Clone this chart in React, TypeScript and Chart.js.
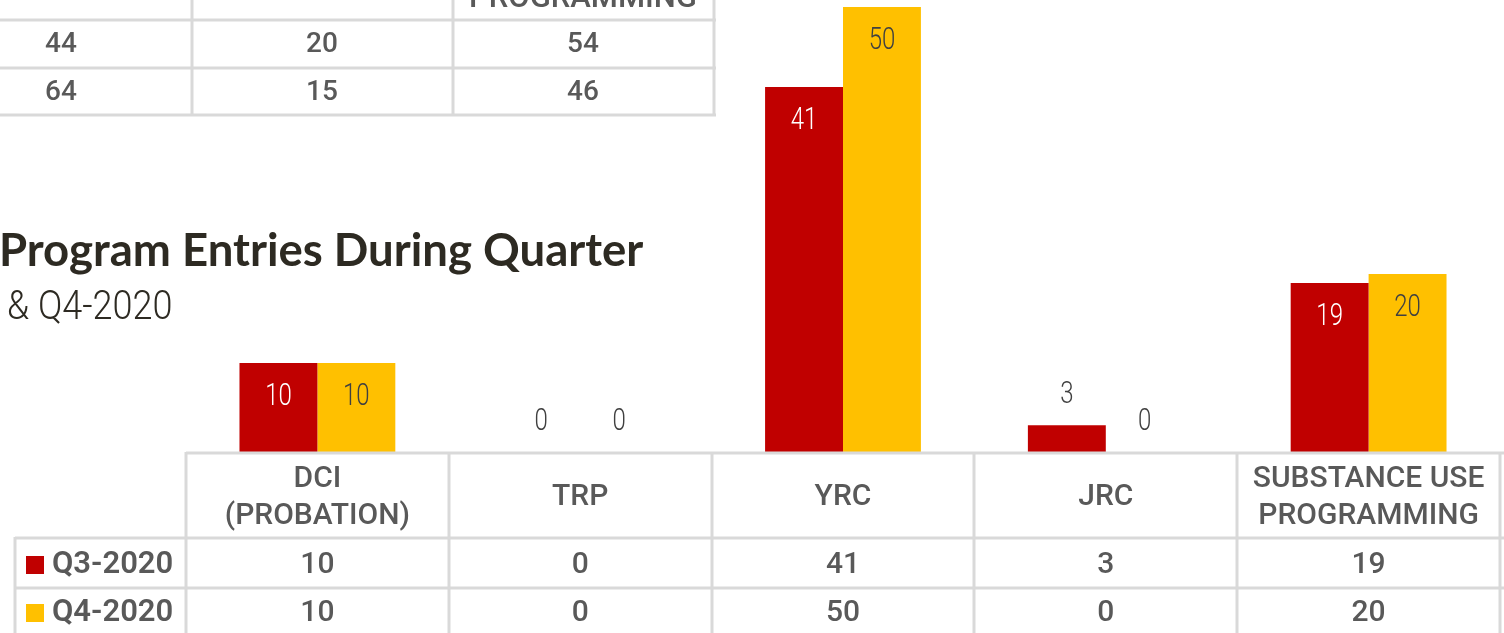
import React, { useEffect, useRef } from "react";
import { Chart, registerables } from "chart.js";

Chart.register(...registerables);

// ---- data ----
const categories: string[][] = [
  ["DCI", "(PROBATION)"],
  ["TRP"],
  ["YRC"],
  ["JRC"],
  ["SUBSTANCE USE", "PROGRAMMING"],
];
const seriesNames = ["Q3-2020", "Q4-2020"];
const q3Values = [10, 0, 41, 3, 19];
const q4Values = [10, 0, 50, 0, 20];
const prevTableRow1 = [44, 20, 54];
const prevTableRow2 = [64, 15, 46];
const prevHeaderTail = "PROGRAMMING";
const titleText = "Program Entries During Quarter";
const subtitleText = "& Q4-2020";
const yMax = 50;

const RED = "#C00000";
const YELLOW = "#FFC000";
const GREY = "#595959";
const LINE = "#D9D9D9";
const SANS = "Roboto, 'Noto Sans', sans-serif";

function drawText(
  ctx: CanvasRenderingContext2D,
  text: string,
  x: number,
  y: number,
  font: string,
  sx: number,
  align: CanvasTextAlign,
  baseline: CanvasTextBaseline = "middle"
) {
  ctx.save();
  ctx.font = font;
  ctx.textAlign = align;
  ctx.textBaseline = baseline;
  ctx.translate(x, y);
  ctx.scale(sx, 1);
  ctx.fillText(text, 0, 0);
  ctx.restore();
}

const overlayPlugin = {
  id: "overlay",
  afterDraw(chart: any) {
    const ctx: CanvasRenderingContext2D = chart.ctx;
    const area = chart.chartArea;
    const xs = chart.scales.x;
    const n = categories.length;
    const cw = (area.right - area.left) / n;
    ctx.save();

    // title & subtitle
    ctx.fillStyle = "#2D2A22";
    drawText(ctx, titleText, -1, 266, `bold 45.5px Lato, 'Open Sans', sans-serif`, 1, "left", "alphabetic");
    drawText(ctx, subtitleText, 7, 319, `300 40px ${SANS}`, 0.9, "left", "alphabetic");

    // previous table remnants
    ctx.strokeStyle = LINE;
    ctx.lineWidth = 3;
    const prevCols = [192, 453, 714];
    ctx.beginPath();
    for (const y of [20, 68, 115]) {
      ctx.moveTo(0, y);
      ctx.lineTo(716, y);
    }
    for (const x of prevCols) {
      ctx.moveTo(x, 0);
      ctx.lineTo(x, 116);
    }
    ctx.stroke();
    ctx.fillStyle = GREY;
    const prevCenters = [61, 322, 583];
    prevTableRow1.forEach((v, i) => drawText(ctx, String(v), prevCenters[i], 45, `500 28px ${SANS}`, 1, "center"));
    prevTableRow2.forEach((v, i) => drawText(ctx, String(v), prevCenters[i], 93, `500 28px ${SANS}`, 1, "center"));
    drawText(ctx, prevHeaderTail, 583, 7, `500 31px ${SANS}`, 1, "center", "alphabetic");

    // data labels
    chart.data.datasets.forEach((ds: any, di: number) => {
      const meta = chart.getDatasetMeta(di);
      meta.data.forEach((bar: any, i: number) => {
        const v = ds.data[i];
        const h = bar.base - bar.y;
        const font = `300 32px ${SANS}`;
        if (h > 45) {
          ctx.fillStyle = di === 0 ? "#FFFFFF" : "#404040";
          drawText(ctx, String(v), bar.x, bar.y + 34, font, 0.75, "center");
        } else {
          ctx.fillStyle = "#404040";
          drawText(ctx, String(v), bar.x, bar.y - 30, font, 0.75, "center");
        }
      });
    });

    // bottom data table
    const top = area.bottom;
    const r1 = 538;
    const r2 = 588;
    const bottom = chart.height + 2;
    ctx.strokeStyle = LINE;
    ctx.lineWidth = 3;
    ctx.beginPath();
    ctx.moveTo(area.left, top + 1);
    ctx.lineTo(chart.width, top + 1);
    ctx.moveTo(15, r1);
    ctx.lineTo(chart.width, r1);
    ctx.moveTo(15, r2);
    ctx.lineTo(chart.width, r2);
    for (let i = 0; i <= n; i++) {
      const x = Math.round(area.left + i * cw);
      ctx.moveTo(x, top);
      ctx.lineTo(x, bottom);
    }
    ctx.moveTo(15, r1 - 1);
    ctx.lineTo(15, bottom);
    ctx.stroke();

    ctx.fillStyle = GREY;
    categories.forEach((lines, i) => {
      const cx = xs.getPixelForValue(i);
      const mid = (top + r1) / 2 + 2.5;
      const lh = 37;
      lines.forEach((t, li) => {
        drawText(ctx, t, cx, mid + (li - (lines.length - 1) / 2) * lh, `500 30px ${SANS}`, 1, "center");
      });
    });
    const rows = [q3Values, q4Values];
    rows.forEach((vals, ri) => {
      const cy = ri === 0 ? 565 : 613;
      ctx.fillStyle = GREY;
      vals.forEach((v, i) => {
        const cx = xs.getPixelForValue(i);
        drawText(ctx, String(v), cx, cy, `500 30px ${SANS}`, 1, "center");
      });
      // legend key
      ctx.fillStyle = ri === 0 ? RED : YELLOW;
      ctx.fillRect(26, cy - 9, 18, 18);
      ctx.fillStyle = GREY;
      drawText(ctx, seriesNames[ri], 52, cy, `600 31px ${SANS}`, 1, "left");
    });

    ctx.restore();
  },
};

export default function App() {
  const ref = useRef<HTMLCanvasElement>(null);
  useEffect(() => {
    document.body.style.margin = "0";
    const chart = new Chart(ref.current!, {
      type: "bar",
      data: {
        labels: categories.map((c) => c.join(" ")),
        datasets: [
          { label: seriesNames[0], data: q3Values, backgroundColor: RED, borderWidth: 0, categoryPercentage: 0.593, barPercentage: 1 },
          { label: seriesNames[1], data: q4Values, backgroundColor: YELLOW, borderWidth: 0, categoryPercentage: 0.593, barPercentage: 1 },
        ],
      },
      options: {
        responsive: false,
        animation: false,
        layout: { padding: { left: 186, right: 4, top: 7, bottom: 181 } },
        scales: {
          x: { display: false, offset: true, grid: { display: false } },
          y: { display: false, min: 0, max: yMax },
        },
        plugins: { legend: { display: false }, tooltip: { enabled: false } },
      },
      plugins: [overlayPlugin],
    });
    return () => chart.destroy();
  }, []);
  return (
    <div style={{ position: "absolute", left: 0, top: 0, width: 1504, height: 633, background: "#fff" }}>
      <canvas ref={ref} width={1504} height={633} />
    </div>
  );
}
